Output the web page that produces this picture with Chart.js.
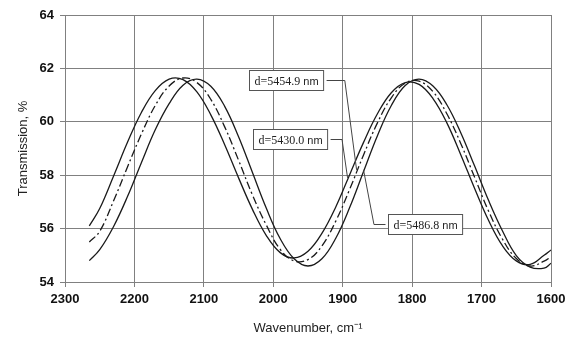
<!DOCTYPE html>
<html>
<head>
<meta charset="utf-8">
<script src="https://cdn.jsdelivr.net/npm/chart.js@4.4.1/dist/chart.umd.min.js"></script>
<style>
  html, body { margin: 0; padding: 0; background: #fff; }
  canvas { display: block; }
</style>
</head>
<body>
<canvas id="chart" width="574" height="340"></canvas>
<script>
// wavenumber, cm-1
const wavenumbers = [2265, 2250, 2230, 2210, 2190, 2170, 2150, 2130, 2110, 2090, 2070, 2050,
  2030, 2010, 1990, 1970, 1950, 1930, 1910, 1890, 1870, 1850, 1830, 1810, 1790, 1770,
  1750, 1730, 1710, 1690, 1670, 1650, 1630, 1610, 1600];

// transmission, %
const d5430 = [56.1, 56.75, 57.97, 59.23, 60.35, 61.17, 61.6, 61.58, 61.12, 60.26, 59.14, 57.9,
  56.72, 55.74, 55.1, 54.9, 55.15, 55.82, 56.81, 58.02, 59.23, 60.3, 61.09, 61.47, 61.4, 60.87,
  59.96, 58.77, 57.5, 56.31, 55.36, 54.79, 54.66, 55.0, 55.2];
const d5454 = [55.5, 55.9, 57.04, 58.31, 59.54, 60.61, 61.34, 61.64, 61.47, 60.84, 59.81, 58.56,
  57.26, 56.13, 55.22, 54.79, 54.84, 55.35, 56.28, 57.47, 58.76, 59.96, 60.9, 61.45, 61.52, 61.13,
  60.3, 59.19, 57.92, 56.66, 55.61, 54.88, 54.6, 54.78, 54.95];
const d5486 = [54.8, 55.21, 56.08, 57.2, 58.47, 59.7, 60.68, 61.37, 61.6, 61.33, 60.58, 59.44,
  58.1, 56.76, 55.62, 54.87, 54.6, 54.87, 55.64, 56.79, 58.14, 59.48, 60.61, 61.36, 61.6, 61.34,
  60.64, 59.59, 58.34, 57.06, 55.92, 54.99, 54.56, 54.52, 54.7];

const xTicks = [2300, 2200, 2100, 2000, 1900, 1800, 1700, 1600];
const yTicks = [54, 56, 58, 60, 62, 64];

const toPoints = (ys) => ys.map((y, i) => ({ x: wavenumbers[i], y }));

// callout boxes with leader lines, placed in data units
const callouts = [
  { text: 'd=5454.9', box: [2035, 61.94], elbow: 1897, tip: [1880, 58.2], side: 'right' },
  { text: 'd=5430.0', box: [2029, 59.73], elbow: 1901, tip: [1893, 57.9], side: 'right' },
  { text: 'd=5486.8', box: [1835, 56.55], elbow: 1855, tip: [1870, 58.2], side: 'left' }
];

const calloutPlugin = {
  id: 'callouts',
  afterDatasetsDraw(chart) {
    const { ctx } = chart;
    const xs = chart.scales.x, ys = chart.scales.y;
    ctx.save();
    callouts.forEach(c => {
      ctx.font = '12px "Liberation Serif", serif';
      const w1 = ctx.measureText(c.text).width;
      ctx.font = '11px "Liberation Sans", sans-serif';
      const w2 = ctx.measureText(' nm').width;
      const w = w1 + w2 + 10, h = 20;
      const x0 = Math.round(xs.getPixelForValue(c.box[0])) + 0.5;
      const y0 = Math.round(ys.getPixelForValue(c.box[1])) + 0.5;
      const ym = y0 + h / 2;
      // leader
      ctx.strokeStyle = '#444';
      ctx.lineWidth = 1;
      ctx.beginPath();
      const sx = c.side === 'right' ? x0 + w + 3 : x0 - 3;
      ctx.moveTo(sx, ym);
      ctx.lineTo(xs.getPixelForValue(c.elbow), ym);
      ctx.lineTo(xs.getPixelForValue(c.tip[0]), ys.getPixelForValue(c.tip[1]));
      ctx.stroke();
      // box
      ctx.fillStyle = '#fff';
      ctx.fillRect(x0, y0, w, h);
      ctx.strokeStyle = '#555';
      ctx.strokeRect(x0, y0, w, h);
      ctx.fillStyle = '#222';
      ctx.textBaseline = 'middle';
      ctx.textAlign = 'left';
      ctx.font = '12px "Liberation Serif", serif';
      ctx.fillText(c.text, x0 + 5, ym + 1);
      ctx.font = '11px "Liberation Sans", sans-serif';
      ctx.fillText(' nm', x0 + 5 + w1, ym + 1);
    });
    ctx.restore();
  }
};

Chart.defaults.font.family = '"Liberation Sans", Arial, sans-serif';
Chart.defaults.color = '#111';

const lineStyle = {
  borderColor: '#1a1a1a',
  borderWidth: 1.3,
  pointRadius: 0,
  fill: false,
  tension: 0.4
};

new Chart(document.getElementById('chart'), {
  type: 'line',
  data: {
    datasets: [
      { label: 'd=5430.0 nm', data: toPoints(d5430), ...lineStyle },
      { label: 'd=5454.9 nm', data: toPoints(d5454), ...lineStyle, borderDash: [8, 3, 2, 3] },
      { label: 'd=5486.8 nm', data: toPoints(d5486), ...lineStyle }
    ]
  },
  options: {
    responsive: false,
    animation: false,
    layout: { padding: { left: 0, right: 23, top: 15, bottom: 0 } },
    plugins: { legend: { display: false }, tooltip: { enabled: false } },
    scales: {
      x: {
        type: 'linear',
        reverse: true,
        min: 1600,
        max: 2300,
        afterBuildTicks: (s) => { s.ticks = xTicks.map(v => ({ value: v })); },
        afterFit: (s) => { s.height = 58; },
        grid: { color: '#808080', lineWidth: 1, tickLength: 5 },
        border: { color: '#808080' },
        ticks: {
          font: { size: 13, weight: 'bold' },
          padding: 5,
          maxRotation: 0,
          callback: (v) => String(v)
        },
        title: {
          display: true,
          text: 'Wavenumber, cm\u207B\u00B9',
          font: { size: 13 },
          color: '#222',
          padding: { top: 0, bottom: 4 }
        }
      },
      y: {
        min: 54,
        max: 64,
        afterBuildTicks: (s) => { s.ticks = yTicks.map(v => ({ value: v })); },
        afterFit: (s) => { s.width = 65; },
        grid: { color: '#808080', lineWidth: 1, tickLength: 5 },
        border: { color: '#808080' },
        ticks: { font: { size: 13, weight: 'bold' }, padding: 6, callback: (v) => String(v) },
        title: {
          display: true,
          text: 'Transmission, %',
          font: { size: 13 },
          color: '#222',
          padding: { top: 16, bottom: 0 }
        }
      }
    }
  },
  plugins: [calloutPlugin]
});
</script>
</body>
</html>
